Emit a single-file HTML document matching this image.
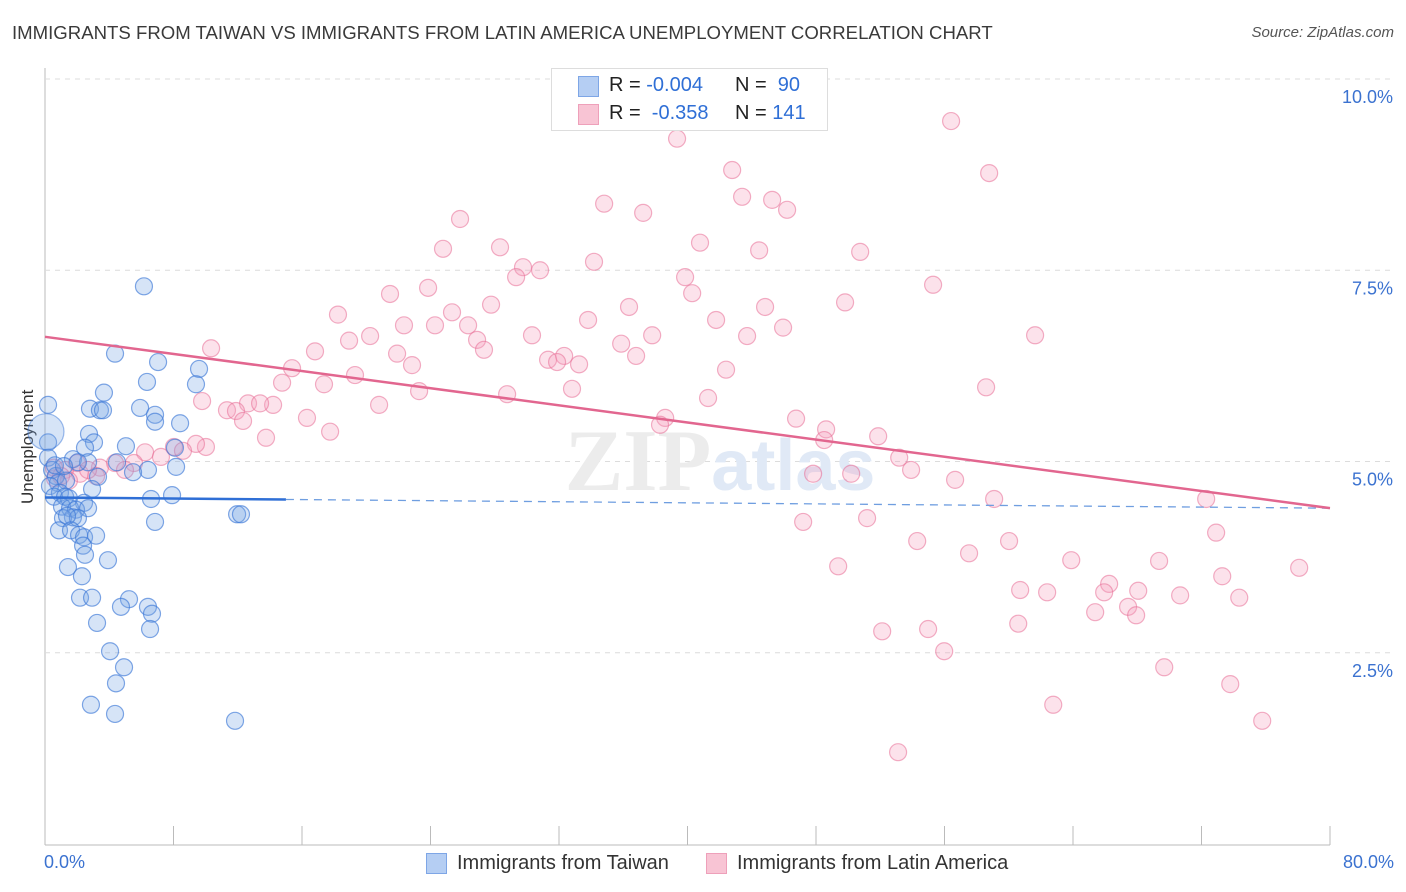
<!DOCTYPE html>
<html><head><meta charset="utf-8">
<style>
body{margin:0;background:#fff;font-family:"Liberation Sans",sans-serif;}
#wrap{position:relative;width:1406px;height:892px;overflow:hidden;}
.t{position:absolute;white-space:nowrap;}
</style></head>
<body>
<div id="wrap">
<div class="t" style="left:12px;top:22px;font-size:18.6px;color:#3a3a3a;">IMMIGRANTS FROM TAIWAN VS IMMIGRANTS FROM LATIN AMERICA UNEMPLOYMENT CORRELATION CHART</div>
<div class="t" style="right:12px;top:24px;font-size:15px;color:#555;font-style:italic;">Source: ZipAtlas.com</div>
<div class="t" style="left:-22px;top:444px;font-size:17px;color:#333;transform:rotate(-90deg);transform-origin:center;width:100px;text-align:center;">Unemployment</div>
<svg id="plot" width="1406" height="892" style="position:absolute;left:0;top:0"></svg>
<div style="position:absolute;left:551px;top:68px;width:275px;height:61px;border:1px solid #ddd;background:#fff;">
 <div style="position:absolute;left:26px;top:7px;width:19px;height:19px;background:#b5cef3;border:1px solid #7ea6e6;"></div>
 <div class="t" style="left:57px;top:5px;font-size:20px;color:#222;">R = <span style="color:#2f6fd6">-0.004</span></div>
 <div class="t" style="left:183px;top:5px;font-size:20px;color:#222;">N = &nbsp;<span style="color:#2f6fd6">90</span></div>
 <div style="position:absolute;left:26px;top:35px;width:19px;height:19px;background:#f8c4d4;border:1px solid #eea0ba;"></div>
 <div class="t" style="left:57px;top:33px;font-size:20px;color:#222;">R = &nbsp;<span style="color:#2f6fd6">-0.358</span></div>
 <div class="t" style="left:183px;top:33px;font-size:20px;color:#222;">N = <span style="color:#2f6fd6">141</span></div>
</div>
<div class="t" style="left:44px;top:852px;font-size:18px;color:#3b72d0;">0.0%</div>
<div class="t" style="right:12px;top:852px;font-size:18px;color:#3b72d0;">80.0%</div>
<div style="position:absolute;left:426px;top:853px;">
 <div style="position:absolute;left:0;top:0;width:19px;height:19px;background:#b5cef3;border:1px solid #7ea6e6;"></div>
 <div class="t" style="left:31px;top:-1px;font-size:20px;color:#333;">Immigrants from Taiwan</div>
</div>
<div style="position:absolute;left:706px;top:853px;">
 <div style="position:absolute;left:0;top:0;width:19px;height:19px;background:#f8c4d4;border:1px solid #eea0ba;"></div>
 <div class="t" style="left:31px;top:-1px;font-size:20px;color:#333;">Immigrants from Latin America</div>
</div>
</div>
<script>
const yTicks=[2.5,5.0,7.5,10.0];
const xTicks=[0,8,16,24,32,40,48,56,64,72,80];
const taiwanX=[6.16,4.36,7.04,9.59,6.35,9.40,3.67,2.80,3.42,3.61,5.92,6.85,6.85,8.41,0.19,2.74,3.05,5.04,2.49,8.09,0.19,0.19,1.74,2.68,2.05,4.48,8.16,6.41,5.48,0.44,0.68,3.30,0.81,1.31,2.93,0.31,0.93,0.56,1.25,1.49,7.91,6.60,2.43,1.06,1.56,1.93,2.68,1.74,1.12,2.05,1.37,11.96,12.20,6.85,0.87,1.62,2.12,2.43,3.18,2.37,2.49,3.92,1.43,2.30,2.18,2.93,5.23,4.73,6.41,6.66,3.24,6.54,4.05,4.92,4.42,2.86,4.36,11.83,0.62,1.18];
const taiwanY=[7.29,6.41,6.30,6.21,6.04,6.01,5.90,5.69,5.67,5.67,5.70,5.61,5.52,5.50,5.74,5.36,5.25,5.20,5.18,5.18,5.25,5.05,5.03,4.99,4.99,4.99,4.93,4.89,4.86,4.89,4.81,4.80,4.72,4.75,4.64,4.68,4.59,4.54,4.54,4.52,4.56,4.51,4.46,4.41,4.39,4.37,4.39,4.27,4.26,4.26,4.29,4.31,4.31,4.21,4.10,4.10,4.04,4.01,4.03,3.90,3.78,3.71,3.62,3.50,3.22,3.22,3.20,3.10,3.10,3.01,2.89,2.81,2.52,2.31,2.10,1.82,1.70,1.61,4.95,4.94];
const latinX=[56.41,39.35,42.78,58.78,43.40,45.27,34.81,46.20,37.24,25.84,40.78,24.78,28.33,44.46,50.75,34.18,29.76,30.82,29.33,39.85,55.29,23.85,21.48,40.29,27.77,25.34,36.36,49.81,44.83,33.81,41.78,18.24,22.35,24.28,26.34,61.64,30.32,45.95,37.80,20.24,26.90,43.71,18.93,35.87,10.34,16.81,27.33,21.92,36.80,31.32,32.32,31.88,33.25,22.85,42.40,19.30,15.38,17.37,14.76,58.59,23.29,32.81,28.77,41.28,9.78,20.80,12.64,14.20,13.39,11.33,11.89,16.31,12.33,38.61,46.76,38.29,17.75,48.63,13.76,51.87,48.51,10.02,8.03,6.23,9.40,8.59,7.22,4.36,5.54,3.42,4.98,1.99,2.18,3.18,2.68,1.25,0.62,1.49,53.18,53.92,47.82,50.19,56.66,59.09,72.29,47.20,51.18,72.91,54.30,60.02,57.53,63.89,49.38,69.36,78.08,73.29,66.25,60.71,62.39,65.94,68.06,70.67,74.35,67.43,65.38,67.93,60.59,52.12,54.98,55.98,69.68,73.79,62.77,75.78,53.11,0.56,1.00];
const latinY=[9.45,9.22,8.81,8.77,8.46,8.42,8.37,8.29,8.25,8.17,7.86,7.78,7.80,7.76,7.74,7.61,7.54,7.50,7.41,7.41,7.31,7.27,7.19,7.20,7.05,6.95,7.02,7.08,7.02,6.85,6.85,6.92,6.78,6.78,6.78,6.65,6.65,6.75,6.65,6.64,6.59,6.64,6.58,6.54,6.48,6.44,6.46,6.41,6.38,6.33,6.38,6.30,6.27,6.26,6.20,6.13,6.22,6.01,6.03,5.97,5.92,5.95,5.88,5.83,5.79,5.74,5.76,5.74,5.76,5.67,5.66,5.57,5.53,5.57,5.56,5.48,5.39,5.42,5.31,5.33,5.28,5.19,5.19,5.12,5.23,5.14,5.06,4.98,4.98,4.92,4.89,4.98,4.84,4.81,4.89,4.89,4.78,4.75,5.05,4.89,4.84,4.84,4.76,4.51,4.51,4.21,4.26,4.07,3.96,3.96,3.80,3.71,3.63,3.70,3.61,3.50,3.40,3.32,3.29,3.29,3.31,3.25,3.22,3.10,3.03,2.99,2.88,2.78,2.81,2.52,2.31,2.09,1.82,1.61,1.20,4.92,4.81];
const taiwanTrend=[4.53,4.39];
const taiwanSolidEnd=15;
const latinTrend=[6.63,4.39];

const NS="http://www.w3.org/2000/svg";
const svg=document.getElementById('plot');
const X=v=>45+v/80*1285;
const Y=v=>844-v*76.5;
function mk(tag,attrs){const e=document.createElementNS(NS,tag);for(const k in attrs)e.setAttribute(k,attrs[k]);svg.appendChild(e);return e;}

const ax=mk('line',{x1:45,y1:68,x2:45,y2:845,stroke:'#bbb','stroke-width':1});


const bx=mk('line',{x1:45,y1:845,x2:1330,y2:845,stroke:'#bbb','stroke-width':1});


yTicks.forEach(v=>{
  const g=mk('line',{x1:45,y1:Y(v),x2:1393,y2:Y(v),stroke:'#dcdcdc','stroke-width':1,'stroke-dasharray':'5,5'});
  
  
  const t=mk('text',{x:1393,y:Y(v)+24,'text-anchor':'end','font-size':18,fill:'#3b72d0','font-family':'Liberation Sans, sans-serif'});
  t.textContent=v.toFixed(1)+'%';
  
  
});
xTicks.forEach(v=>{
  const l=mk('line',{x1:X(v),y1:826,x2:X(v),y2:845,stroke:'#bbb','stroke-width':1});
  
  
});
const wm=mk('text',{x:720,y:490,'text-anchor':'middle','font-size':88,fill:'#ececec','font-family':'Liberation Serif, serif','font-weight':'bold'});
wm.innerHTML='ZIP<tspan fill="#e0e9f6" font-family="Liberation Sans, sans-serif" font-weight="bold" font-size="72">atlas</tspan>';



latinX.forEach((x,i)=>{
  const c=mk('circle',{cx:X(x),cy:Y(latinY[i]),r:8.5,fill:'rgba(244,160,188,0.3)',stroke:'rgba(232,110,150,0.55)','stroke-width':1.2});
  
  
});
taiwanX.forEach((x,i)=>{
  const c=mk('circle',{cx:X(x),cy:Y(taiwanY[i]),r:8.5,fill:'rgba(120,165,230,0.3)',stroke:'rgba(60,120,215,0.65)','stroke-width':1.2});
  
  
});
const big=mk('circle',{cx:X(0.06),cy:Y(5.39),r:18,fill:'rgba(120,165,230,0.3)',stroke:'rgba(60,120,215,0.5)','stroke-width':1.2});



const tAt=x=>taiwanTrend[0]+(taiwanTrend[1]-taiwanTrend[0])*x/80;
const ts=mk('line',{x1:X(0),y1:Y(tAt(0)),x2:X(taiwanSolidEnd),y2:Y(tAt(taiwanSolidEnd)),stroke:'#2f6fd6','stroke-width':2.5});


const td=mk('line',{x1:X(taiwanSolidEnd),y1:Y(tAt(taiwanSolidEnd)),x2:X(80),y2:Y(tAt(80)),stroke:'#6f9ee0','stroke-width':1.3,'stroke-dasharray':'8,6'});


const lt=mk('line',{x1:X(0),y1:Y(latinTrend[0]),x2:X(80),y2:Y(latinTrend[1]),stroke:'#e2668f','stroke-width':2.5});


</script>
</body></html>
